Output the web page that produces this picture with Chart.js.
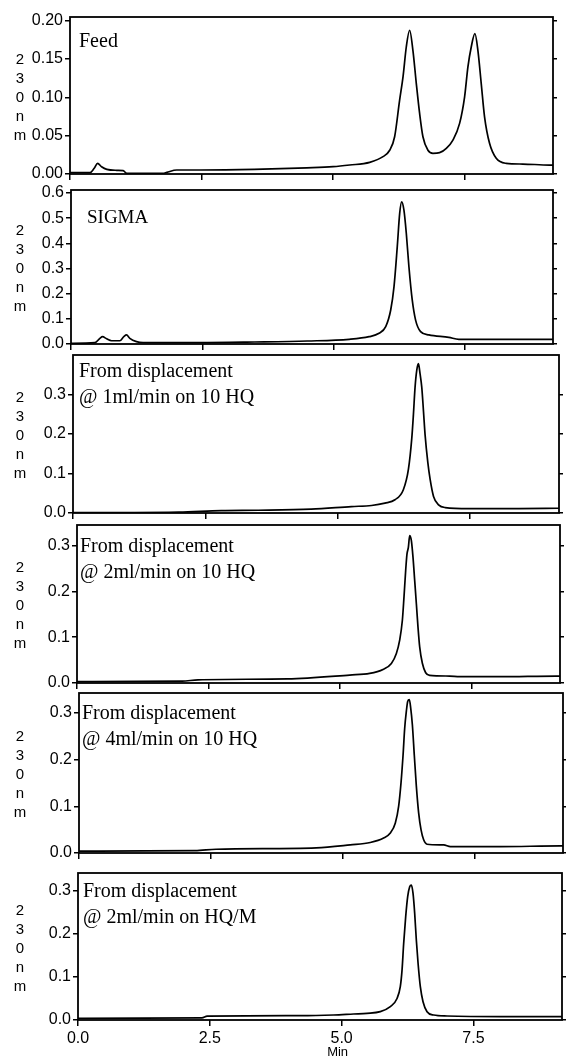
<!DOCTYPE html>
<html><head><meta charset="utf-8">
<script src="https://cdn.jsdelivr.net/npm/chart.js@4.4.0/dist/chart.umd.min.js"></script>
<style>
html,body{margin:0;padding:0;background:#fff;}
#wrap{position:relative;width:566px;height:1057px;overflow:hidden;background:#fff;}
canvas{position:absolute;left:0;}
</style>
</head><body><div id="wrap"></div>
<script>
// ---------- DATA ----------
const xTicks = [0, 2.5, 5, 7.5];
const xTickLabels = ['0.0', '2.5', '5.0', '7.5'];
const xTitle = 'Min';
const axisTitleChars = ['2', '3', '0', 'n', 'm'];

const feedTicks = [0, 0.05, 0.10, 0.15, 0.20];
const feedTickLabels = ['0.00', '0.05', '0.10', '0.15', '0.20'];
const sigmaTicks = [0, 0.1, 0.2, 0.3, 0.4, 0.5, 0.6];
const sigmaTickLabels = ['0.0', '0.1', '0.2', '0.3', '0.4', '0.5', '0.6'];
const dispTicks = [0, 0.1, 0.2, 0.3];
const dispTickLabels = ['0.0', '0.1', '0.2', '0.3'];

const feedLabel = ['Feed'];
const sigmaLabel = ['SIGMA'];
const disp1Label = ['From displacement', '@ 1ml/min on 10 HQ'];
const disp2Label = ['From displacement', '@ 2ml/min on 10 HQ'];
const disp4Label = ['From displacement', '@ 4ml/min on 10 HQ'];
const hqmLabel = ['From displacement', '@ 2ml/min on HQ/M'];

const feedTime = [0,0.38,0.46,0.525,0.60,0.70,0.89,1.01,1.08,1.77,1.84,2.03,2.47,3.5,4.5,5.0,5.316,5.696,5.949,6.076,6.17,6.265,6.33,6.392,6.455,6.518,6.582,6.645,6.708,6.803,6.898,7.025,7.152,7.278,7.405,7.5,7.563,7.627,7.696,7.753,7.816,7.879,7.974,8.101,8.291,8.607,9.113,9.18];
const feedAbs = [0.0017,0.0017,0.0074,0.0139,0.0095,0.0061,0.0048,0.0043,0.0009,0.0009,0.0022,0.0052,0.0052,0.006,0.008,0.0095,0.0117,0.0152,0.0226,0.031,0.0486,0.0964,0.127,0.166,0.1875,0.161,0.118,0.079,0.0486,0.031,0.027,0.0278,0.0334,0.0443,0.066,0.1007,0.1397,0.166,0.183,0.161,0.118,0.0746,0.040,0.0204,0.0139,0.013,0.0117,0.0117];

const sigmaTime = [0,0.456,0.55,0.60,0.678,0.772,0.93,1.006,1.057,1.12,1.247,1.373,2.45,3.5,4.5,5.297,5.677,5.867,5.994,6.089,6.152,6.214,6.26,6.297,6.341,6.386,6.436,6.499,6.563,6.658,6.816,7.196,7.386,7.83,9.09,9.18];
const sigmaAbs = [0.0026,0.0053,0.0225,0.029,0.021,0.013,0.013,0.029,0.036,0.0225,0.0093,0.0053,0.0053,0.008,0.012,0.0187,0.029,0.0424,0.069,0.135,0.228,0.387,0.519,0.565,0.532,0.44,0.307,0.175,0.095,0.049,0.036,0.0265,0.0187,0.0187,0.0187,0.0187];

const disp1Time = [0,1.0,2.0,2.8,3.5,4.5,5.259,5.639,5.892,6.082,6.24,6.336,6.399,6.43,6.461,6.493,6.525,6.556,6.588,6.62,6.651,6.702,6.746,6.81,6.905,7.03,7.475,8.424,9.18];
const disp1Abs = [0.001,0.001,0.002,0.006,0.007,0.010,0.0163,0.019,0.025,0.0336,0.059,0.111,0.189,0.249,0.318,0.361,0.378,0.352,0.318,0.258,0.197,0.128,0.085,0.042,0.0207,0.0138,0.0112,0.0112,0.012];

const disp2Time = [0,2.0,2.3,4.0,5.183,5.563,5.816,5.975,6.07,6.133,6.184,6.215,6.247,6.272,6.298,6.323,6.355,6.386,6.418,6.45,6.481,6.513,6.564,6.627,6.702,7.082,7.272,8.031,9.108,9.18];
const disp2Abs = [0.003,0.004,0.007,0.009,0.0174,0.021,0.0297,0.0428,0.0645,0.0935,0.137,0.188,0.246,0.282,0.296,0.322,0.311,0.275,0.224,0.173,0.122,0.079,0.043,0.0224,0.0167,0.0152,0.0138,0.0138,0.0152,0.0152];

const disp4Time = [0,2.2,2.6,4.5,5.145,5.525,5.778,5.905,6.0,6.063,6.108,6.146,6.177,6.209,6.234,6.266,6.291,6.323,6.36,6.398,6.442,6.487,6.537,6.601,6.917,7.044,7.993,9.132,9.18];
const disp4Abs = [0.004,0.005,0.008,0.011,0.0174,0.0225,0.032,0.0428,0.0645,0.1007,0.151,0.209,0.267,0.304,0.325,0.329,0.311,0.275,0.209,0.144,0.086,0.05,0.0283,0.0188,0.0174,0.0138,0.0138,0.0152,0.0152];

const hqmTime = [0,2.35,2.45,4.215,4.848,5.227,5.481,5.734,5.924,6.051,6.113,6.146,6.177,6.215,6.253,6.291,6.323,6.354,6.386,6.417,6.45,6.493,6.544,6.62,6.746,7.0,8.012,9.151,9.18];
const hqmAbs = [0.004,0.005,0.009,0.010,0.0116,0.014,0.0155,0.0194,0.031,0.050,0.0775,0.116,0.178,0.240,0.287,0.31,0.314,0.295,0.248,0.186,0.132,0.0775,0.0426,0.0194,0.0116,0.0093,0.0078,0.0078,0.0078];

// ---------- LAYOUT / STYLE ----------
const X_MAX = 9.18;
const SANS = '"Liberation Sans", Arial, sans-serif';
const SERIF = '"Liberation Serif", "Times New Roman", serif';

const panels = [
  {time: feedTime,  abs: feedAbs,  ticks: feedTicks,  tickLabels: feedTickLabels,  label: feedLabel,  yMax: 0.2048, box:{l:70, r:553, t:17,  b:174},  dx: 9,  dy: 30, lh: 26, fs: 20},
  {time: sigmaTime, abs: sigmaAbs, ticks: sigmaTicks, tickLabels: sigmaTickLabels, label: sigmaLabel, yMax: 0.612,  box:{l:71, r:553, t:190, b:344},  dx: 16, dy: 33, lh: 26, fs: 19},
  {time: disp1Time, abs: disp1Abs, ticks: dispTicks,  tickLabels: dispTickLabels,  label: disp1Label, yMax: 0.400,  box:{l:73, r:559, t:355, b:513},  dx: 6,  dy: 22, lh: 26, fs: 20},
  {time: disp2Time, abs: disp2Abs, ticks: dispTicks,  tickLabels: dispTickLabels,  label: disp2Label, yMax: 0.345,  box:{l:77, r:560, t:525, b:683},  dx: 3,  dy: 27, lh: 26, fs: 20},
  {time: disp4Time, abs: disp4Abs, ticks: dispTicks,  tickLabels: dispTickLabels,  label: disp4Label, yMax: 0.343,  box:{l:79, r:563, t:693, b:853},  dx: 3,  dy: 26, lh: 26, fs: 20},
  {time: hqmTime,   abs: hqmAbs,   ticks: dispTicks,  tickLabels: dispTickLabels,  label: hqmLabel,   yMax: 0.342,  box:{l:78, r:562, t:873, b:1020}, dx: 5,  dy: 24, lh: 26, fs: 20, bottom: true}
];

const panelDeco = {
  id: 'panelDeco',
  afterDraw(chart, args, o) {
    const {ctx, chartArea: a} = chart;
    ctx.save();
    ctx.strokeStyle = '#000';
    ctx.lineWidth = 1.8;
    ctx.strokeRect(a.left, a.top, a.right - a.left, a.bottom - a.top);
    ctx.fillStyle = '#000';
    ctx.textAlign = 'left';
    ctx.textBaseline = 'alphabetic';
    ctx.font = o.fs + 'px ' + SERIF;
    o.lines.forEach((s, i) => ctx.fillText(s, a.left + o.dx, a.top + o.dy + i * o.lh));
    // stacked y-axis title
    ctx.font = '15px ' + SANS;
    ctx.textAlign = 'center';
    ctx.textBaseline = 'middle';
    const cy = (a.top + a.bottom) / 2 + 2;
    axisTitleChars.forEach((c, i) => ctx.fillText(c, 20, cy + (i - 2) * 19));
    if (o.bottom) {
      const xs = chart.scales.x;
      ctx.font = '13px ' + SANS;
      ctx.textBaseline = 'alphabetic';
      ctx.fillText(xTitle, xs.getPixelForValue(5) - 4, a.bottom + 36);
    }
    ctx.restore();
  }
};

const wrap = document.getElementById('wrap');
panels.forEach(p => {
  const padTop = 14;
  const padBottom = p.bottom ? (1057 - p.box.b) : 14;
  const H = p.box.b - p.box.t + padTop + padBottom;
  const canvas = document.createElement('canvas');
  canvas.width = 566; canvas.height = H;
  canvas.style.width = '566px'; canvas.style.height = H + 'px';
  canvas.style.top = (p.box.t - padTop) + 'px';
  wrap.appendChild(canvas);
  const setTicks = vals => s => { s.ticks = vals.map(v => ({value: v})); };
  new Chart(canvas, {
    type: 'line',
    data: {datasets: [{
      data: p.time.map((t, i) => ({x: t, y: p.abs[i]})),
      xAxisID: 'x', yAxisID: 'y',
      borderColor: '#000', borderWidth: 1.7, pointRadius: 0,
      cubicInterpolationMode: 'monotone', fill: false
    }]},
    options: {
      responsive: false, animation: false, events: [], devicePixelRatio: 1,
      layout: {padding: {top: padTop, left: 0, right: 0, bottom: 0}},
      plugins: {legend: {display: false}, tooltip: {enabled: false},
        panelDeco: {lines: p.label, dx: p.dx, dy: p.dy, lh: p.lh, fs: p.fs, bottom: !!p.bottom}},
      scales: {
        x: {type: 'linear', position: 'bottom', min: 0, max: X_MAX,
          afterBuildTicks: setTicks(xTicks),
          afterFit: s => { s.height = padBottom; },
          border: {display: false},
          grid: {drawOnChartArea: false, drawTicks: true, tickLength: 6, color: '#000', lineWidth: 1.5},
          ticks: {autoSkip: false, maxRotation: 0, padding: 3, color: '#000',
            font: {family: SANS, size: 16},
            callback: (v, i) => p.bottom ? xTickLabels[i] : ''}},
        y: {type: 'linear', position: 'left', min: 0, max: p.yMax,
          afterBuildTicks: setTicks(p.ticks),
          afterFit: s => { s.width = p.box.l; },
          border: {display: false},
          grid: {drawOnChartArea: false, drawTicks: true, tickLength: 5, color: '#000', lineWidth: 1.5},
          ticks: {autoSkip: false, padding: 2, color: '#000',
            font: {family: SANS, size: 16},
            callback: (v, i) => p.tickLabels[i]}},
        y2: {type: 'linear', position: 'right', min: 0, max: p.yMax,
          afterBuildTicks: setTicks(p.ticks),
          afterFit: s => { s.width = 566 - p.box.r; },
          border: {display: false},
          grid: {drawOnChartArea: false, drawTicks: true, tickLength: 4, color: '#000', lineWidth: 1.5},
          ticks: {display: false}}
      }
    },
    plugins: [panelDeco]
  });
});
</script></body></html>
